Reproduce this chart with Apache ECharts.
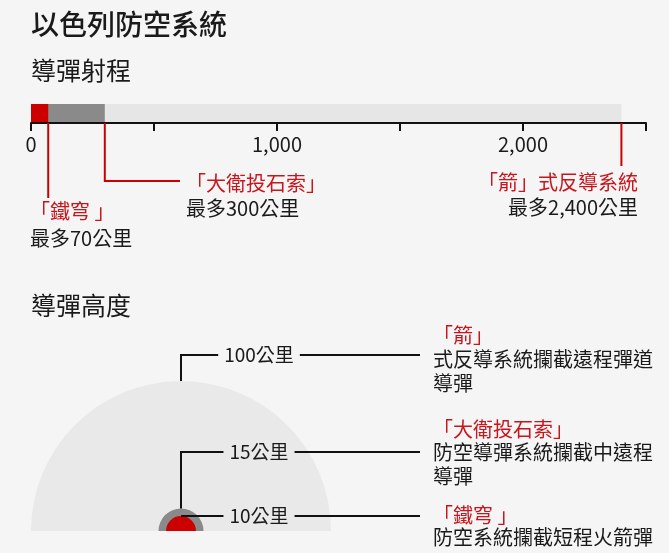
<!DOCTYPE html>
<html>
<head>
<meta charset="utf-8">
<script src="https://cdn.jsdelivr.net/npm/echarts@6/dist/echarts.min.js"></script>
<style>
html, body { margin: 0; padding: 0; background: #f5f5f5; }
#chart { width: 669px; height: 553px; }
</style>
</head>
<body>
<div id="chart"></div>
<script>
// Data: Israeli air defence systems, range and interception altitude
const rangeNames = ['「鐵穹 」', '「大衛投石索」', '「箭」式反導系統'];
const rangeKm = [70, 300, 2400];
const rangeLabels = ['最多70公里', '最多300公里', '最多2,400公里'];
const rangeAxis = [0, 2500, 500]; // min, max, interval
const altitudeNames = ['「鐵穹 」', '「大衛投石索」', '「箭」'];
const altitudeKm = [10, 15, 100];
const altitudeLabels = ['10公里', '15公里', '100公里'];
const altitudeNotes = [
  ['防空系統攔截短程火箭彈'],
  ['防空導彈系統攔截中遠程', '導彈'],
  ['式反導系統攔截遠程彈道', '導彈']
];

const FONT = "'Noto Sans CJK TC', 'Noto Sans', sans-serif";
const RED = '#cc0000';
const RED_TEXT = '#c8161d';
const INK = '#1a1a1a';
const systemColors = ['#cc0000', '#8a8a8a', '#e6e6e6'];
const domeColors = ['#cc0000', '#8a8a8a', '#e9e9e9'];

// label layout for the range leaders (absolute pixels)
const rangeLayout = [
  { drop: 198, elbowX: null, textX: 30, align: 'left', y1: 211, y2: 238 },
  { drop: 181, elbowX: 180, textX: 186, align: 'left', y1: 183, y2: 208 },
  { drop: 166, elbowX: null, textX: 638, align: 'right', y1: 182, y2: 207 }
];
// label layout for the altitude leaders
const altLayout = [
  { levelY: null, noteY: 515, lineGap: 22.5 },
  { levelY: 452, noteY: 429, lineGap: 23.5 },
  { levelY: 355, noteY: 335, lineGap: 24 }
];
const labelCenterX = 259;
const lineEndX = 420;
const noteX = 433;

const measureCtx = document.createElement('canvas').getContext('2d');
function textWidth(str, size) {
  measureCtx.font = size + 'px ' + FONT;
  return measureCtx.measureText(str).width;
}

const chart = echarts.init(document.getElementById('chart'));

// bars drawn back to front: longest first
const barSeries = [2, 1, 0].map(function (i) {
  return {
    type: 'bar',
    xAxisIndex: 0,
    yAxisIndex: 0,
    data: [rangeKm[i]],
    barWidth: 18,
    barGap: '-100%',
    silent: true,
    itemStyle: { color: systemColors[i] }
  };
});

const option = {
  animation: false,
  backgroundColor: '#f5f5f5',
  textStyle: { fontFamily: FONT },
  title: [
    { text: '以色列防空系統', left: 26, top: 5, textStyle: { fontSize: 28, fontWeight: 500, color: INK, fontFamily: FONT } },
    { text: '導彈射程', left: 26, top: 53, textStyle: { fontSize: 25, fontWeight: 'normal', color: INK, fontFamily: FONT } },
    { text: '導彈高度', left: 26, top: 288, textStyle: { fontSize: 25, fontWeight: 'normal', color: INK, fontFamily: FONT } }
  ],
  grid: [
    { left: 31, top: 103, width: 615, height: 20 },
    { left: 31, top: 381, width: 300, height: 150 }
  ],
  xAxis: [
    {
      type: 'value',
      gridIndex: 0,
      min: rangeAxis[0],
      max: rangeAxis[1],
      interval: rangeAxis[2],
      position: 'bottom',
      axisLine: { show: true, lineStyle: { color: '#111', width: 2 } },
      axisTick: { show: true, length: 8, lineStyle: { color: '#111', width: 2 } },
      axisLabel: {
        margin: 11,
        fontSize: 20,
        color: INK,
        fontFamily: FONT,
        formatter: function (v) {
          return v % 1000 === 0 ? echarts.format.addCommas(v) : '';
        }
      },
      splitLine: { show: false },
      z: 5
    },
    { type: 'value', gridIndex: 1, min: -100, max: 100, show: false }
  ],
  yAxis: [
    { type: 'category', gridIndex: 0, data: [''], show: false },
    { type: 'value', gridIndex: 1, min: 0, max: 100, show: false }
  ],
  series: barSeries.concat([
    {
      // range leader lines and labels
      type: 'custom',
      xAxisIndex: 0,
      yAxisIndex: 0,
      clip: false,
      silent: true,
      z: 10,
      data: rangeKm.map(function (v, i) { return [v, 0, i]; }),
      renderItem: function (params, api) {
        const i = params.dataIndex;
        const L = rangeLayout[i];
        const cs = params.coordSys;
        const x = api.coord([api.value(0), 0])[0];
        const axisY = cs.y + cs.height;
        const pts = [[x, axisY], [x, L.drop]];
        if (L.elbowX !== null) pts.push([L.elbowX, L.drop]);
        return {
          type: 'group',
          children: [
            { type: 'polyline', shape: { points: pts }, style: { stroke: RED, lineWidth: 2, fill: null } },
            { type: 'text', x: L.textX, y: L.y1, style: { text: rangeNames[i], fill: RED_TEXT, fontSize: 20, fontFamily: FONT, align: L.align, verticalAlign: 'middle' } },
            { type: 'text', x: L.textX, y: L.y2, style: { text: rangeLabels[i], fill: INK, fontSize: 20, fontFamily: FONT, align: L.align, verticalAlign: 'middle' } }
          ]
        };
      }
    },
    {
      // altitude domes, biggest first
      type: 'custom',
      xAxisIndex: 1,
      yAxisIndex: 1,
      clip: false,
      silent: true,
      z: 2,
      data: altitudeKm.map(function (v, i) { return [0, v, i]; }).reverse(),
      renderItem: function (params, api) {
        const alt = api.value(1);
        const i = api.value(2);
        const c = api.coord([0, 0]);
        const r = api.size([alt, 0])[0];
        return {
          type: 'sector',
          shape: { cx: c[0], cy: c[1], r0: 0, r: r, startAngle: Math.PI, endAngle: Math.PI * 2 },
          style: { fill: domeColors[i] }
        };
      }
    },
    {
      // altitude leader lines and notes
      type: 'custom',
      xAxisIndex: 1,
      yAxisIndex: 1,
      clip: false,
      silent: true,
      z: 10,
      data: altitudeKm.map(function (v, i) { return [0, v, i]; }),
      renderItem: function (params, api) {
        const i = params.dataIndex;
        const L = altLayout[i];
        const top = api.coord([0, api.value(1)]);
        const levelY = L.levelY === null ? top[1] : L.levelY;
        const w = textWidth(altitudeLabels[i], 19);
        const gap = 6;
        const children = [
          { type: 'polyline', shape: { points: [[top[0], top[1]], [top[0], levelY], [labelCenterX - w / 2 - gap, levelY]] }, style: { stroke: '#111', lineWidth: 2, fill: null } },
          { type: 'text', x: labelCenterX, y: levelY, style: { text: altitudeLabels[i], fill: INK, fontSize: 19, fontFamily: FONT, align: 'center', verticalAlign: 'middle' } },
          { type: 'line', shape: { x1: labelCenterX + w / 2 + gap, y1: levelY, x2: lineEndX, y2: levelY }, style: { stroke: '#111', lineWidth: 2 } },
          { type: 'text', x: noteX, y: L.noteY, style: { text: altitudeNames[i], fill: RED_TEXT, fontSize: 20, fontFamily: FONT, align: 'left', verticalAlign: 'middle' } }
        ];
        altitudeNotes[i].forEach(function (line, k) {
          children.push({ type: 'text', x: noteX, y: L.noteY + L.lineGap * (k + 1), style: { text: line, fill: INK, fontSize: 20, fontFamily: FONT, align: 'left', verticalAlign: 'middle' } });
        });
        return { type: 'group', children: children };
      }
    }
  ])
};

chart.setOption(option);
window.addEventListener('resize', function () {
  chart.resize();
});
</script>
</body>
</html>
